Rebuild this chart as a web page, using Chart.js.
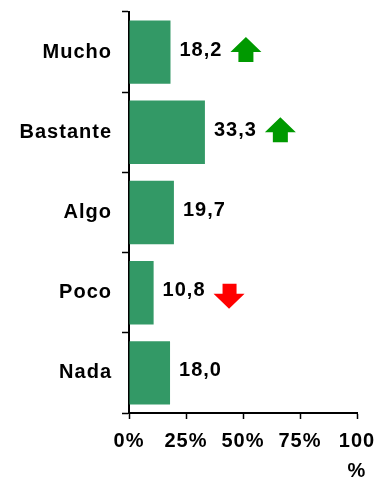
<!DOCTYPE html>
<html>
<head>
<meta charset="utf-8">
<script src="https://cdn.jsdelivr.net/npm/chart.js@4/dist/chart.umd.min.js"></script>
<style>
    html, body { margin: 0; padding: 0; background: #fff; }
    #wrap { width: 378px; height: 480px; }
</style>
</head>
<body>
<div id="wrap"><canvas id="chart"></canvas></div>
<script>
// datos
const categories = ["Mucho", "Bastante", "Algo", "Poco", "Nada"];
const values = [18.2, 33.3, 19.7, 10.8, 18.0];
const trends = ["up", "up", "", "down", ""];
const xTicks = [0, 25, 50, 75, 100];

const FONT = "'Liberation Sans', Arial, sans-serif";
const LS = "1px";

function spacing(chart) {
    chart.ctx.letterSpacing = LS;
}

// etiquetas de valor + flechas
const valueLabels = {
    id: "valueLabels",
    beforeLayout: spacing,
    beforeDraw: spacing,
    afterDatasetsDraw(chart) {
        const ctx = chart.ctx;
        const meta = chart.getDatasetMeta(0);
        ctx.save();
        ctx.letterSpacing = LS;
        ctx.font = "bold 20px " + FONT;
        ctx.fillStyle = "#000";
        ctx.textBaseline = "middle";
        ctx.textAlign = "left";
        meta.data.forEach(function (bar, i) {
            let txt = values[i].toFixed(1).replace(".", ",");
            let x = bar.x + 9;
            let y = bar.y - 2;
            ctx.fillText(txt, x, y);
            let w = ctx.measureText(txt).width;
            let t = trends[i];
            if (!t) return;
            let ax = x + w + 8;
            ctx.beginPath();
            if (t === "up") {
                let top = y - 13;
                ctx.fillStyle = "#009900";
                ctx.moveTo(ax + 15.5, top);
                ctx.lineTo(ax + 31, top + 15);
                ctx.lineTo(ax + 23, top + 15);
                ctx.lineTo(ax + 23, top + 25);
                ctx.lineTo(ax + 8, top + 25);
                ctx.lineTo(ax + 8, top + 15);
                ctx.lineTo(ax, top + 15);
            } else {
                let top = y - 7;
                ctx.fillStyle = "#ff0000";
                ctx.moveTo(ax + 9, top);
                ctx.lineTo(ax + 23, top);
                ctx.lineTo(ax + 23, top + 10);
                ctx.lineTo(ax + 31, top + 10);
                ctx.lineTo(ax + 15.5, top + 25);
                ctx.lineTo(ax, top + 10);
                ctx.lineTo(ax + 9, top + 10);
            }
            ctx.closePath();
            ctx.fill();
            ctx.fillStyle = "#000";
        });
        ctx.restore();
    }
};

new Chart(document.getElementById("chart"), {
    type: "bar",
    data: {
        labels: categories,
        datasets: [{
            data: values,
            backgroundColor: "#339966",
            borderWidth: 0,
            barPercentage: 0.79,
            categoryPercentage: 1
        }]
    },
    options: {
        indexAxis: "y",
        responsive: true,
        maintainAspectRatio: false,
        animation: false,
        layout: {
            padding: { top: 12, right: 21, left: 0, bottom: 0 }
        },
        plugins: {
            legend: { display: false },
            tooltip: { enabled: false }
        },
        scales: {
            x: {
                min: 0,
                max: 100,
                afterBuildTicks(scale) {
                    scale.ticks = xTicks.map(function (v) { return { value: v }; });
                },
                afterFit(scale) {
                    scale.height = 67;
                    scale.paddingLeft = 0;
                    scale.paddingRight = 0;
                },
                grid: {
                    drawOnChartArea: false,
                    drawTicks: true,
                    tickLength: 6,
                    tickWidth: 1.5,
                    color: "#000"
                },
                border: { display: true, color: "#000", width: 2 },
                ticks: {
                    color: "#000",
                    padding: 7,
                    maxRotation: 0,
                    autoSkip: false,
                    font: { family: FONT, size: 20, weight: "bold", lineHeight: 1.5 },
                    callback(v) {
                        return v === 100 ? ["100", "%"] : v + "%";
                    }
                }
            },
            y: {
                afterFit(scale) {
                    scale.width = 129;
                    scale.paddingTop = 0;
                    scale.paddingBottom = 0;
                },
                grid: {
                    drawOnChartArea: false,
                    drawTicks: true,
                    tickLength: 7,
                    tickWidth: 1.5,
                    color: "#000"
                },
                border: { display: true, color: "#000", width: 2 },
                ticks: {
                    color: "#000",
                    padding: 10,
                    font: { family: FONT, size: 20, weight: "bold" }
                }
            }
        }
    },
    plugins: [valueLabels]
});
</script>
</body>
</html>
